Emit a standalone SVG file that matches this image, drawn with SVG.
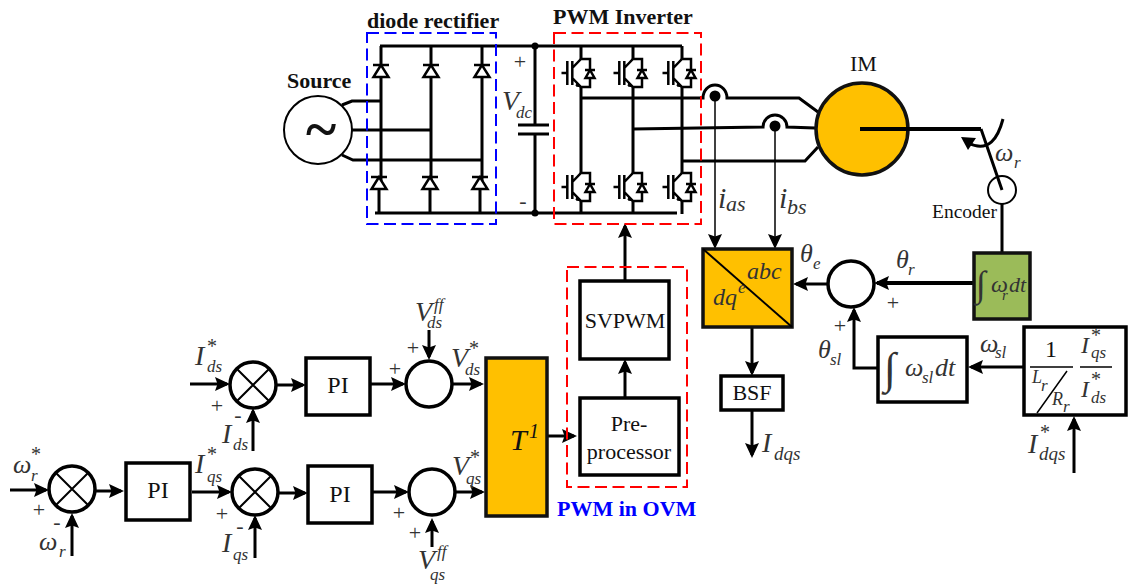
<svg xmlns="http://www.w3.org/2000/svg" xmlns:xlink="http://www.w3.org/1999/xlink" width="1130" height="586" viewBox="0 0 1130 586">
<style>
text{font-family:"Liberation Serif","Times New Roman",serif;fill:#111}
.b{font-weight:bold}
.r{font-size:22px}
.m{font-style:italic;fill:#333}
.v{font-size:28px}
.w{font-size:26px}
.s{font-size:17px}
.st{font-size:20px;fill:#333}
.sign{font-size:22px;fill:#333;text-anchor:middle}
.mid{text-anchor:middle}
.box{fill:#fff;stroke:#000;stroke-width:3.5}
.or{fill:#FFC000;stroke:#111;stroke-width:3.5}
.ln{fill:none;stroke:#000;stroke-width:3;stroke-linejoin:miter}
.thin{fill:none;stroke:#000;stroke-width:1.5}
.ar{fill:none;stroke:#000;stroke-width:3;marker-end:url(#a)}
.ak{fill:none;stroke:#000;stroke-width:4;marker-end:url(#a)}
.dash{fill:none;stroke-width:2;stroke-dasharray:12 5.5}
.sum{fill:#fff;stroke:#000;stroke-width:3.5}
</style>
<defs>
<marker id="a" markerUnits="userSpaceOnUse" markerWidth="15" markerHeight="15" viewBox="0 0 15 15" refX="12" refY="7.5" orient="auto"><path d="M0 0.5L15 7.5L0 14.5L2.5 7.5z" fill="#000"/></marker>
<g id="dU"><path d="M-8 0H8M0 0L-7.5 12H7.5z" fill="#fff" stroke="#000" stroke-width="2.5"/></g>
<g id="igbt" fill="none" stroke="#000" stroke-width="2.5">
<path d="M-19.5 0H-13.7M-13.7 -12V12M-8.7 -12V12M-8.7 -5L0 -14H9V14H0L-8.7 5"/>
<path d="M4 -3H14M9 -3L4.5 5H13.5z" fill="#fff"/>
<path d="M-4 9L0 14L-5 13z" fill="#000" stroke-width="1"/>
</g>
<g id="x"><circle r="23" class="sum"/><path d="M-16 -16L16 16M-16 16L16 -16" stroke="#000" stroke-width="2"/></g>
</defs>

<g id="connectors">
<!-- power -->
<path class="ln" d="M380 46H682M375 213H677"/>
<path class="ln" d="M381 46V181M431 46V181M482 46V181M379 181V213M430 181V213M480 181V213"/>
<path class="ln" d="M342 105L352 101H381M352 130H431M342 155L353 160H481"/>
<path class="ln" d="M535 46V125M535 134V213"/>
<path class="ln" d="M581 46V60M581 87V174M581 201V214M633 46V60M633 87V174M633 201V214M682 46V60M682 87V174M682 201V214"/>
<path class="ln" d="M581 98H703A12 13 0 0 1 727 98H799L818 112"/>
<path class="ln" d="M633 129L763 127A12 12 0 0 1 787 127L815 128"/>
<path class="ln" d="M682 161H805L818 147"/>
<path class="ln" d="M518 125H549M518 134H549"/>
<path class="ln" d="M981 129L1002 190M1002 204V252"/>
<path d="M1003 119C998 138 989 153 968 143" class="ln"/>
<path d="M961 137L976 138L968 150z" fill="#000"/>
<!-- sensing -->
<path d="M715 97V246" fill="none" stroke="#000" stroke-width="1.5" marker-end="url(#a)"/>
<path d="M775 127V246" fill="none" stroke="#000" stroke-width="1.5" marker-end="url(#a)"/>
<!-- control right -->
<path class="ak" d="M974 283H877"/>
<path class="ar" d="M828 284H796"/>
<path class="ar" d="M878 368H854V310"/>
<path class="ar" d="M1024 367H971"/>
<path class="ar" d="M752 327V373"/>
<path class="ar" d="M752 410V455"/>
<path class="ar" d="M1074 473V419"/>
<!-- control left -->
<path class="ar" d="M10 490H46"/>
<path class="ar" d="M95 491H121"/>
<path class="ar" d="M192 492H229"/>
<path class="ar" d="M190 384H227"/>
<path class="ar" d="M72 556V516"/>
<path class="ar" d="M253 451V411"/>
<path class="ar" d="M255 558V518"/>
<path class="ar" d="M276 385H303"/>
<path class="ar" d="M278 493H305"/>
<path class="ar" d="M370 384H403"/>
<path class="ar" d="M372 492H406"/>
<path class="ar" d="M453 384H481"/>
<path class="ar" d="M455 492H482"/>
<path class="ar" d="M429 330V357"/>
<path class="ar" d="M432 547V521"/>
<path class="ar" d="M547 436H574"/>
<path class="ar" d="M625 398V362"/>
<path class="ar" d="M625 281V226"/>
</g>

<g id="diode-rectifier">
<rect class="dash" x="367" y="33" width="129" height="191" stroke="#0000FF"/>
<text class="b r" x="367" y="28">diode rectifier</text>
<use xlink:href="#dU" x="381" y="65"/><use xlink:href="#dU" x="431" y="65"/><use xlink:href="#dU" x="482" y="65"/>
<use xlink:href="#dU" x="379" y="177"/><use xlink:href="#dU" x="430" y="177"/><use xlink:href="#dU" x="480" y="177"/>
</g>

<g id="dc-link">
<circle cx="535" cy="46" r="3.5"/><circle cx="535" cy="213" r="3.5"/>
<text class="sign" x="520" y="69">+</text>
<text class="sign" x="523" y="208">-</text>
<text class="m v" x="502" y="110">V</text><text class="m s" x="516" y="118">dc</text>
</g>

<g id="source">
<circle cx="318" cy="130" r="34" fill="#fff" stroke="#000" stroke-width="2"/>
<text class="b" x="321" y="148" font-size="58" text-anchor="middle">~</text>
<text class="b r" x="287" y="88">Source</text>
</g>

<g id="pwm-inverter">
<rect class="dash" x="554" y="33" width="147" height="191" stroke="#FF0000"/>
<text class="b r" x="553" y="24">PWM Inverter</text>
<use xlink:href="#igbt" x="581" y="73"/><use xlink:href="#igbt" x="633" y="73"/><use xlink:href="#igbt" x="682" y="73"/>
<use xlink:href="#igbt" x="581" y="187"/><use xlink:href="#igbt" x="633" y="187"/><use xlink:href="#igbt" x="682" y="187"/>
<circle cx="715" cy="96" r="5.5"/><circle cx="775" cy="126" r="5.5"/>
<text class="m" x="718" y="208" font-size="30">i</text><text class="m" x="726" y="211" font-size="22">as</text>
<text class="m" x="779" y="208" font-size="30">i</text><text class="m" x="787" y="214" font-size="22">bs</text>
</g>

<g id="im">
<circle cx="862" cy="129" r="46" class="or"/>
<path d="M860 129H981" stroke="#000" stroke-width="4"/>
<text class="r" x="850" y="71">IM</text>
<text class="m w" x="995" y="161">ω</text><text class="m s" x="1014" y="168">r</text>
</g>

<g id="encoder">
<circle cx="1002" cy="190" r="14" fill="none" stroke="#000" stroke-width="2"/>
<text x="932" y="218" font-size="19.5">Encoder</text>
</g>

<g id="integrator-r">
<rect x="974" y="253" width="56" height="66" fill="#9BBB59" stroke="#111" stroke-width="3.5"/>
<text class="m" x="976" y="296" font-size="36">∫</text>
<text class="m" x="991" y="292" font-size="24">ω</text><text class="m" x="1002" y="300" font-size="15">r</text><text class="m" x="1009" y="292" font-size="22">dt</text>
</g>

<g id="abc-dq">
<rect class="or" x="703" y="249" width="89" height="78"/>
<path d="M703 249L792 327" stroke="#000" stroke-width="2"/>
<text class="m" x="747" y="279" font-size="24">abc</text>
<text class="m" x="713" y="305" font-size="24">dq</text><text class="m s" x="738" y="293">e</text>
</g>

<g id="sum-theta">
<circle cx="851" cy="284" r="23" class="sum"/>
<text class="sign" x="893" y="310">+</text><text class="sign" x="840" y="333">+</text>
<text class="m w" x="800" y="262">θ</text><text class="m s" x="813" y="269">e</text>
<text class="m w" x="896" y="268">θ</text><text class="m s" x="908" y="275">r</text>
<text class="m w" x="818" y="358">θ</text><text class="m s" x="830" y="365">sl</text>
</g>

<g id="integrator-sl">
<rect class="box" x="878" y="337" width="89" height="65"/>
<text class="m" x="884" y="383" font-size="44">∫</text>
<text class="m w" x="905" y="376">ω</text><text class="m s" x="922" y="383">sl</text><text class="m w" x="935" y="376">dt</text>
<text class="m w" x="980" y="352">ω</text><text class="m s" x="995" y="358">sl</text>
</g>

<g id="slip-gain">
<rect class="box" x="1024" y="327" width="102" height="88"/>
<path class="thin" d="M1030 367H1073M1080 367H1112M1067 371L1037 413"/>
<text class="mid" x="1051" y="357" font-size="24">1</text>
<text class="m" x="1032" y="383" font-size="18">L</text><text class="m s" x="1041" y="391">r</text>
<text class="m" x="1052" y="405" font-size="18">R</text><text class="m s" x="1063" y="412">r</text>
<text class="m" x="1081" y="353" font-size="24">I</text><text class="st" x="1091" y="342">*</text><text class="m s" x="1091" y="358">qs</text>
<text class="m" x="1081" y="397" font-size="24">I</text><text class="st" x="1091" y="386">*</text><text class="m s" x="1091" y="403">ds</text>
<text class="m v" x="1028" y="453">I</text><text class="st" x="1040" y="439">*</text><text class="m" x="1039" y="460" font-size="19">dqs</text>
</g>

<g id="bsf">
<rect class="box" x="721" y="376" width="62" height="34"/>
<text class="r mid" x="752" y="400">BSF</text>
<text class="m v" x="762" y="452">I</text><text class="m" x="774" y="460" font-size="19">dqs</text>
</g>

<g id="sum-speed">
<use xlink:href="#x" x="72" y="489"/>
<text class="m w" x="13" y="473">ω</text><text class="st" x="31" y="461">*</text><text class="m s" x="31" y="481">r</text>
<text class="sign" x="39" y="517">+</text><text class="sign" x="57" y="529">-</text>
<text class="m w" x="39" y="550">ω</text><text class="m s" x="59" y="557">r</text>
</g>

<g id="pi-speed">
<rect class="box" x="126" y="463" width="64" height="57"/>
<text class="mid" x="158" y="498" font-size="24">PI</text>
</g>

<g id="sum-ids">
<use xlink:href="#x" x="253" y="385"/>
<text class="m v" x="195" y="365">I</text><text class="st" x="207" y="353">*</text><text class="m s" x="207" y="372">ds</text>
<text class="sign" x="217" y="413">+</text><text class="sign" x="238" y="422">-</text>
<text class="m v" x="222" y="443">I</text><text class="m s" x="233" y="450">ds</text>
</g>

<g id="sum-iqs">
<use xlink:href="#x" x="255" y="492"/>
<text class="m v" x="195" y="473">I</text><text class="st" x="207" y="461">*</text><text class="m s" x="207" y="482">qs</text>
<text class="sign" x="222" y="521">+</text><text class="sign" x="240" y="533">-</text>
<text class="m v" x="222" y="552">I</text><text class="m s" x="233" y="560">qs</text>
</g>

<g id="pi-d">
<rect class="box" x="306" y="358" width="64" height="57"/>
<text class="mid" x="338" y="393" font-size="24">PI</text>
</g>

<g id="pi-q">
<rect class="box" x="308" y="466" width="64" height="57"/>
<text class="mid" x="340" y="502" font-size="24">PI</text>
</g>

<g id="sum-vd">
<circle cx="429" cy="384" r="23" class="sum"/>
<text class="m v" x="415" y="321">V</text><text class="m s" x="434" y="310">ff</text><text class="m s" x="427" y="328">ds</text>
<text class="sign" x="413" y="355">+</text><text class="sign" x="395" y="376">+</text>
<text class="m v" x="451" y="367">V</text><text class="st" x="469" y="355">*</text><text class="m s" x="465" y="375">ds</text>
</g>

<g id="sum-vq">
<circle cx="432" cy="492" r="23" class="sum"/>
<text class="m v" x="452" y="475">V</text><text class="st" x="470" y="464">*</text><text class="m s" x="466" y="484">qs</text>
<text class="sign" x="399" y="520">+</text><text class="sign" x="415" y="540">+</text>
<text class="m v" x="418" y="569">V</text><text class="m s" x="437" y="557">ff</text><text class="m s" x="430" y="580">qs</text>
</g>

<g id="t-inverse">
<rect class="or" x="486" y="358" width="61" height="158"/>
<text class="m" x="510" y="450" font-size="30" style="fill:#111">T</text><text class="m" x="529" y="438" font-size="20" style="fill:#111">1</text>
</g>

<g id="pwm-ovm">
<rect class="dash" x="567" y="267" width="120" height="220" stroke="#FF0000"/>
<text class="b r" x="557" y="516" style="fill:#0000FF">PWM in OVM</text>
</g>

<g id="svpwm">
<rect class="box" x="580" y="281" width="89" height="78"/>
<text class="r mid" x="625" y="328">SVPWM</text>
</g>

<g id="preprocessor">
<rect class="box" x="580" y="398" width="99" height="77"/>
<text class="r mid" x="629" y="431">Pre-</text>
<text class="r mid" x="629" y="459">processor</text>
</g>
</svg>
